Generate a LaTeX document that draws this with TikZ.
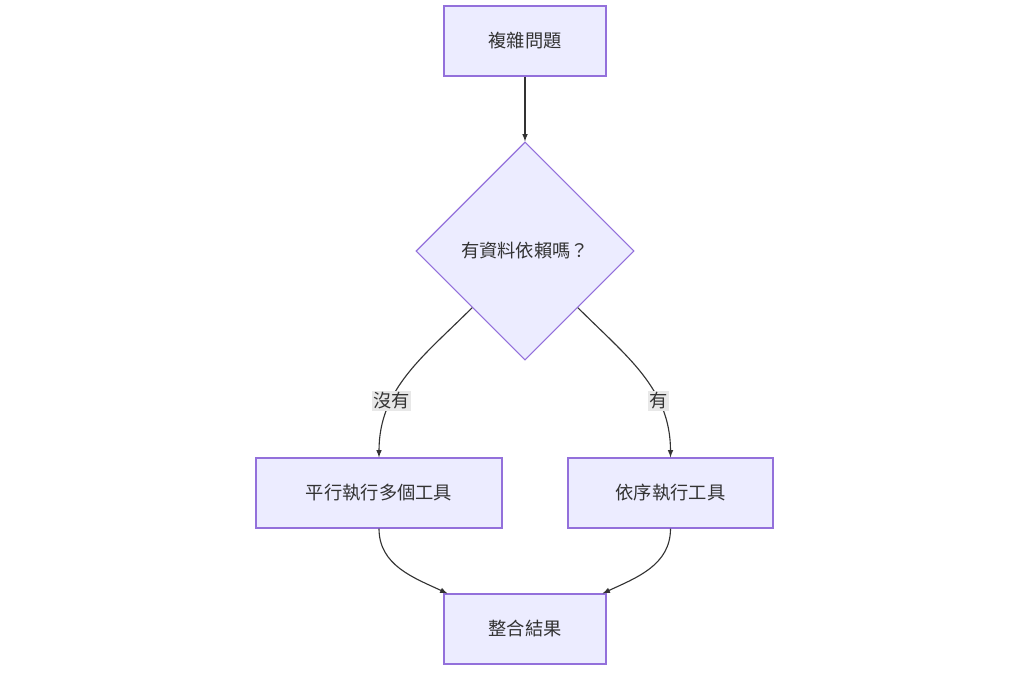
\documentclass[tikz,border=0pt]{standalone}
\usepackage{fontspec}
\setmainfont{Noto Sans CJK TC}
\usetikzlibrary{shapes.geometric}
\definecolor{boxfill}{HTML}{ECECFF}
\definecolor{boxline}{HTML}{9370DB}
\definecolor{arrowc}{HTML}{333333}
\definecolor{lblbg}{HTML}{E8E8E8}

\begin{document}
\begin{tikzpicture}[x=0.025cm,y=-0.025cm,>=latex,
    box/.style={draw=boxline,fill=boxfill,line width=0.8pt,minimum height=1.75cm,font=\fontsize{13}{15}\selectfont,text=arrowc},
    dec/.style={draw=boxline,fill=boxfill,line width=0.8pt,diamond,minimum width=5.45cm,minimum height=5.45cm,inner sep=0pt,font=\fontsize{13}{15}\selectfont,text=arrowc},
    flow/.style={->,draw=arrowc,line width=0.8pt},
    lbl/.style={fill=lblbg,inner sep=1pt,font=\fontsize{13}{15}\selectfont,text=arrowc}]
    \useasboundingbox (0,0) rectangle (1024,673);

    \node[box,minimum width=4.05cm] (q) at (525,41) {複雜問題};
    \node[dec] (d) at (525,251) {有資料依賴嗎？};
    \node[box,minimum width=6.15cm] (p) at (379,493) {平行執行多個工具};
    \node[box,minimum width=5.125cm] (s) at (670.5,493) {依序執行工具};
    \node[box,minimum width=4.05cm] (r) at (525,629) {整合結果};

    \draw[flow] (q) -- (d);
    \draw[flow] (d.-133) to[out=-135,in=90] node[lbl,pos=0.68] {沒有} (p.north);
    \draw[flow] (d.-47) to[out=-45,in=90] node[lbl,pos=0.68] {有} (s.north);
    \draw[flow] (p.south) to[out=-90,in=155] ([xshift=0.1cm]r.north west);
    \draw[flow] (s.south) to[out=-90,in=25] ([xshift=-0.1cm]r.north east);
\end{tikzpicture}
\end{document}
